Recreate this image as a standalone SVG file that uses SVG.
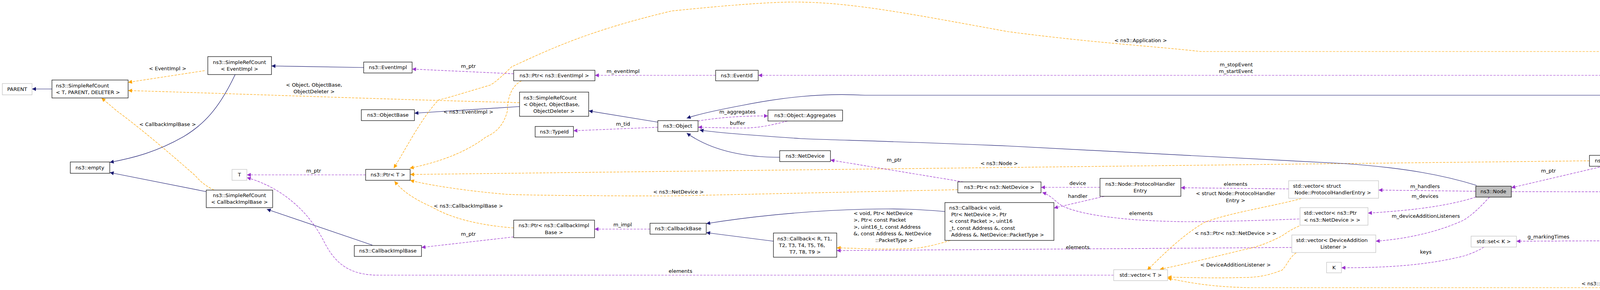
<svg xmlns="http://www.w3.org/2000/svg" width="5136" height="743" viewBox="0 0 5136 743">
<style>
text{font-family:"DejaVu Sans","Liberation Sans",sans-serif;font-size:13px;fill:#000}
.m{text-anchor:middle}
.e{text-anchor:end}
rect.n{fill:#fff;stroke:#000;stroke-width:1.2}
rect.g{fill:#fff;stroke:#bfbfbf;stroke-width:1.2}
rect.s{fill:#bfbfbf;stroke:#000;stroke-width:1.2}
path{fill:none;stroke-width:1.2}
.b{stroke:#191970;marker-end:url(#ab)}
.p{stroke:#9a32cd;stroke-dasharray:6,3;marker-end:url(#ap)}
.o{stroke:#ffa500;stroke-dasharray:6,3;marker-end:url(#ao)}
</style>
<defs>
<marker id="ab" viewBox="0 0 10 10" refX="10" refY="5" markerWidth="12" markerHeight="10" markerUnits="userSpaceOnUse" orient="auto"><path d="M0,0L10,5L0,10z" style="fill:#191970;stroke:none"/></marker>
<marker id="ap" viewBox="0 0 10 10" refX="10" refY="5" markerWidth="12" markerHeight="10" markerUnits="userSpaceOnUse" orient="auto"><path d="M0,0L10,5L0,10z" style="fill:#9a32cd;stroke:none"/></marker>
<marker id="ao" viewBox="0 0 10 10" refX="10" refY="5" markerWidth="12" markerHeight="10" markerUnits="userSpaceOnUse" orient="auto"><path d="M0,0L10,5L0,10z" style="fill:#ffa500;stroke:none"/></marker>
</defs>
<rect width="5136" height="743" fill="#fff"/>
<g id="connectors">
<path class="b" d="M133,228H82"/>
<path class="o" d="M524,181L328,211"/>
<path class="o" d="M1330,263C1000,255 600,240 328,232"/>
<path class="o" d="M548,487C530,478 516,469 500,450C420,380 351,322 300,285L260,251"/>
<path class="b" d="M602,191C560,280 520,320 470,350C400,390 340,405 281,416"/>
<path class="b" d="M528,491L281,442"/>
<path class="b" d="M931,173L695,169"/>
<path class="p" d="M936,448H632"/>
<path class="p" d="M2851,705H970C900,705 860,680 830,620C790,540 720,480 632,455"/>
<path class="p" d="M1315,189L1055,177"/>
<path class="p" d="M1832,193H1523"/>
<path class="b" d="M1330,273L1061,290"/>
<path class="b" d="M1684,313L1507,284"/>
<path class="p" d="M1684,326L1468,335"/>
<path class="o" d="M1335,207C1310,220 1299,250 1299,284C1290,320 1270,340 1244,351C1180,400 1100,420 1049,431"/>
<path class="o" d="M4718,261C4680,210 4600,140 4481,132H3074C2950,118 2800,110 2580,81C2300,30 2150,0 1994,6C1900,10 1800,20 1720,28C1500,80 1400,130 1310,171C1290,190 1270,210 1255,218C1180,240 1150,250 1123,256C1080,300 1040,380 1008,431"/>
<path class="o" d="M4069,412L3440,419L2580,429L1720,439L1050,447"/>
<path class="o" d="M2452,486L1720,502C1500,502 1350,500 1299,498C1200,490 1100,475 1050,462"/>
<path class="o" d="M1315,584C1200,575 1140,550 1107,531C1060,510 1030,490 1010,464"/>
<path class="p" d="M1315,607L1079,634"/>
<path class="p" d="M1664,587H1522"/>
<path class="b" d="M953,628L683,536"/>
<path class="b" d="M4405,264L4300,253C4250,247 4200,244 4170,244H2214C2100,238 2000,250 1900,270C1820,285 1780,295 1758,303"/>
<path class="b" d="M3780,475C3700,450 3600,430 3440,419L2580,374C2300,362 2100,358 2049,355C1900,345 1820,338 1791,333"/>
<path class="b" d="M1996,403C1900,403 1820,385 1758,341"/>
<path class="p" d="M1786,310C1850,300 1900,297 1966,297"/>
<path class="p" d="M2016,310C1970,322 1940,328 1901,328C1850,328 1800,326 1787,326"/>
<path class="p" d="M2466,466L2126,410"/>
<path class="b" d="M2419,542C2350,536 2300,534 2214,536C2050,540 1900,558 1808,573"/>
<path class="b" d="M1980,618L1808,596"/>
<path class="o" d="M2433,616C2380,632 2350,637 2323,637C2250,640 2200,636 2142,635"/>
<path class="p" d="M3307,634L2142,642"/>
<path class="p" d="M4447,258C4420,230 4300,195 4224,193H1941"/>
<path class="p" d="M2816,480H2665"/>
<path class="p" d="M2827,503L2698,533"/>
<path class="p" d="M3299,484L3023,481"/>
<path class="p" d="M3326,561C3200,566 3100,568 3035,568C2850,566 2750,545 2717,526C2700,515 2690,500 2668,493"/>
<path class="o" d="M3331,509C3250,530 3150,545 3085,569C3030,600 2980,650 2937,692"/>
<path class="o" d="M3326,579C3300,590 3290,600 3277,607C3240,625 3220,632 3183,640C3100,660 3020,680 2969,690"/>
<path class="o" d="M3318,648C3300,660 3295,680 3282,692C3250,705 3220,711 3183,711C3100,713 3050,711 2989,710"/>
<path class="o" d="M5028,517C5000,560 4960,620 4900,690C4840,730 4800,737 4742,737H3200C3100,735 3050,725 2989,713"/>
<path class="p" d="M4104,426L3869,481"/>
<path class="p" d="M3778,490L3529,487"/>
<path class="p" d="M3778,505C3700,530 3600,540 3502,546"/>
<path class="p" d="M3813,505C3790,530 3770,550 3747,564C3680,595 3600,612 3522,618"/>
<path class="p" d="M3799,633C3780,645 3760,652 3747,656C3650,680 3550,686 3434,686"/>
<path class="p" d="M4112,617L3882,618"/>
<path class="p" d="M3869,491L4957,493"/>
<path class="p" d="M4428,292C4380,315 4340,330 4300,348L4191,398"/>
<path class="p" d="M4457,292C4440,320 4420,340 4407,360C4380,400 4330,450 4300,481L4175,602"/>
<path class="p" d="M4627,274H4533"/>
<path class="p" d="M5006,467L4756,289"/>
</g>
<g id="labels">
<text class="m" x="429" y="180">&lt; EventImpl &gt;</text>
<text class="m" x="804" y="222">&lt; Object, ObjectBase,</text>
<text class="m" x="804" y="239">ObjectDeleter &gt;</text>
<text class="m" x="429" y="323">&lt; CallbackImplBase &gt;</text>
<text class="m" x="803" y="442">m_ptr</text>
<text class="m" x="1742" y="699">elements</text>
<text class="m" x="1199" y="174">m_ptr</text>
<text class="m" x="1595" y="187">m_eventImpl</text>
<text class="m" x="1199" y="291">&lt; ns3::EventImpl &gt;</text>
<text class="m" x="1595" y="322">m_tid</text>
<text class="m" x="1199" y="532">&lt; ns3::CallbackImplBase &gt;</text>
<text class="m" x="1199" y="604">m_ptr</text>
<text class="m" x="1594" y="580">m_impl</text>
<text class="m" x="1737" y="496">&lt; ns3::NetDevice &gt;</text>
<text class="m" x="2920" y="108">&lt; ns3::Application &gt;</text>
<text class="m" x="2558" y="423">&lt; ns3::Node &gt;</text>
<text class="m" x="1888" y="291">m_aggregates</text>
<text class="m" x="1888" y="320">buffer</text>
<text class="m" x="2289" y="414">m_ptr</text>
<text x="2185" y="551">&lt; void, Ptr&lt; NetDevice</text>
<text x="2185" y="568">&gt;, Ptr&lt; const Packet</text>
<text x="2185" y="586">&gt;, uint16_t, const Address</text>
<text x="2185" y="603">&amp;, const Address &amp;, NetDevice</text>
<text class="m" x="2289" y="620">::PacketType &gt;</text>
<text class="e" x="3207" y="170">m_stopEvent</text>
<text class="e" x="3207" y="187">m_startEvent</text>
<text class="m" x="2759" y="474">device</text>
<text class="m" x="2759" y="507">handler</text>
<text class="m" x="3163" y="476">elements</text>
<text class="m" x="3163" y="500">&lt; struct Node::ProtocolHandler</text>
<text class="m" x="3163" y="518">Entry &gt;</text>
<text class="m" x="2921" y="551">elements</text>
<text class="m" x="3163" y="602">&lt; ns3::Ptr&lt; ns3::NetDevice &gt; &gt;</text>
<text class="m" x="2759" y="638">elements</text>
<text class="m" x="3163" y="683">&lt; DeviceAdditionListener &gt;</text>
<text class="m" x="4156" y="731">&lt; ns3::Ptr&lt; ns3::Application &gt; &gt;</text>
<text class="m" x="3964" y="442">m_ptr</text>
<text class="m" x="3648" y="482">m_handlers</text>
<text class="m" x="3648" y="507">m_devices</text>
<text class="m" x="3650" y="558">m_deviceAdditionListeners</text>
<text class="m" x="3964" y="611">g_markingTimes</text>
<text class="m" x="3650" y="650">keys</text>
<text class="m" x="4471" y="487">m_applications</text>
<text class="m" x="4340" y="296">m_node</text>
<text class="e" x="4379" y="368">m_stopTime</text>
<text class="e" x="4379" y="386">m_startTime</text>
<text class="m" x="4581" y="268">m_ptr</text>
<text class="m" x="4900" y="366">elements</text>
</g>
<g id="n-parent"><rect class="g" x="6" y="214" width="76" height="29"/><text class="m" x="44" y="233">PARENT</text></g>
<g id="n-src-tpd"><rect class="n" x="133" y="205" width="195" height="46"/><text x="143" y="224">ns3::SimpleRefCount</text><text x="143" y="241">&lt; T, PARENT, DELETER &gt;</text></g>
<g id="n-src-eventimpl"><rect class="n" x="532" y="145" width="163" height="46"/><text class="m" x="613" y="164">ns3::SimpleRefCount</text><text class="m" x="613" y="181">&lt; EventImpl &gt;</text></g>
<g id="n-empty"><rect class="n" x="180" y="415" width="101" height="29"/><text class="m" x="230" y="434">ns3::empty</text></g>
<g id="n-t"><rect class="g" x="594" y="434" width="38" height="28"/><text class="m" x="613" y="452">T</text></g>
<g id="n-src-cbib"><rect class="n" x="528" y="487" width="170" height="45"/><text class="m" x="613" y="505">ns3::SimpleRefCount</text><text class="m" x="613" y="522">&lt; CallbackImplBase &gt;</text></g>
<g id="n-eventimpl"><rect class="n" x="931" y="159" width="124" height="28"/><text class="m" x="993" y="177">ns3::EventImpl</text></g>
<g id="n-ptr-eventimpl"><rect class="n" x="1315" y="180" width="208" height="27"/><text class="m" x="1419" y="198">ns3::Ptr&lt; ns3::EventImpl &gt;</text></g>
<g id="n-src-object"><rect class="n" x="1330" y="236" width="177" height="62"/><text x="1340" y="255">ns3::SimpleRefCount</text><text x="1340" y="272">&lt; Object, ObjectBase,</text><text class="m" x="1418" y="289">ObjectDeleter &gt;</text></g>
<g id="n-objectbase"><rect class="n" x="925" y="281" width="136" height="28"/><text class="m" x="993" y="299">ns3::ObjectBase</text></g>
<g id="n-typeid"><rect class="n" x="1370" y="324" width="98" height="27"/><text class="m" x="1419" y="342">ns3::TypeId</text></g>
<g id="n-ptr-t"><rect class="n" x="936" y="434" width="114" height="28"/><text class="m" x="993" y="452">ns3::Ptr&lt; T &gt;</text></g>
<g id="n-ptr-cbib"><rect class="n" x="1315" y="564" width="207" height="45"/><text class="m" x="1418" y="582">ns3::Ptr&lt; ns3::CallbackImpl</text><text class="m" x="1418" y="600">Base &gt;</text></g>
<g id="n-cbib"><rect class="n" x="907" y="629" width="172" height="28"/><text class="m" x="993" y="647">ns3::CallbackImplBase</text></g>
<g id="n-object"><rect class="n" x="1684" y="309" width="103" height="28"/><text class="m" x="1735" y="327">ns3::Object</text></g>
<g id="n-eventid"><rect class="n" x="1832" y="180" width="109" height="27"/><text class="m" x="1886" y="198">ns3::EventId</text></g>
<g id="n-aggregates"><rect class="n" x="1966" y="282" width="191" height="28"/><text class="m" x="2061" y="300">ns3::Object::Aggregates</text></g>
<g id="n-netdevice"><rect class="n" x="1996" y="386" width="130" height="28"/><text class="m" x="2061" y="404">ns3::NetDevice</text></g>
<g id="n-ptr-netdevice"><rect class="n" x="2452" y="466" width="213" height="28"/><text class="m" x="2558" y="484">ns3::Ptr&lt; ns3::NetDevice &gt;</text></g>
<g id="n-callbackbase"><rect class="n" x="1664" y="572" width="144" height="28"/><text class="m" x="1736" y="590">ns3::CallbackBase</text></g>
<g id="n-callback-r"><rect class="n" x="1980" y="597" width="162" height="62"/><text x="1990" y="616">ns3::Callback&lt; R, T1,</text><text x="1994" y="633">T2, T3, T4, T5, T6,</text><text class="m" x="2061" y="650">T7, T8, T9 &gt;</text></g>
<g id="n-callback-void"><rect class="n" x="2419" y="519" width="279" height="97"/><text x="2430" y="537">ns3::Callback&lt; void,</text><text x="2435" y="554">Ptr&lt; NetDevice &gt;, Ptr</text><text x="2430" y="571">&lt; const Packet &gt;, uint16</text><text x="2430" y="589">_t, const Address &amp;, const</text><text x="2435" y="606">Address &amp;, NetDevice::PacketType &gt;</text></g>
<g id="n-phe"><rect class="n" x="2816" y="457" width="207" height="46"/><text class="m" x="2919" y="476">ns3::Node::ProtocolHandler</text><text class="m" x="2919" y="493">Entry</text></g>
<g id="n-vec-phe"><rect class="g" x="3299" y="463" width="230" height="45"/><text x="3310" y="481">std::vector&lt; struct</text><text x="3314" y="498">Node::ProtocolHandlerEntry &gt;</text></g>
<g id="n-vec-ptrnd"><rect class="g" x="3328" y="532" width="174" height="45"/><text x="3338" y="550">std::vector&lt; ns3::Ptr</text><text x="3338" y="568">&lt; ns3::NetDevice &gt; &gt;</text></g>
<g id="n-vec-dal"><rect class="g" x="3307" y="602" width="215" height="45"/><text x="3318" y="620">std::vector&lt; DeviceAddition</text><text class="m" x="3414" y="637">Listener &gt;</text></g>
<g id="n-k"><rect class="g" x="3396" y="672" width="38" height="27"/><text class="m" x="3415" y="690">K</text></g>
<g id="n-vec-t"><rect class="g" x="2851" y="691" width="138" height="28"/><text class="m" x="2920" y="709">std::vector&lt; T &gt;</text></g>
<g id="n-node"><rect class="s" x="3778" y="477" width="91" height="28"/><text class="m" x="3823" y="495">ns3::Node</text></g>
<g id="n-ptr-node"><rect class="n" x="4069" y="398" width="175" height="28"/><text class="m" x="4156" y="416">ns3::Ptr&lt; ns3::Node &gt;</text></g>
<g id="n-set-k"><rect class="g" x="3766" y="605" width="116" height="28"/><text class="m" x="3824" y="623">std::set&lt; K &gt;</text></g>
<g id="n-time"><rect class="n" x="4112" y="602" width="88" height="28"/><text class="m" x="4156" y="620">ns3::Time</text></g>
<g id="n-application"><rect class="n" x="4405" y="261" width="128" height="28"/><text class="m" x="4469" y="279">ns3::Application</text></g>
<g id="n-ptr-application"><rect class="n" x="4627" y="261" width="212" height="28"/><text class="m" x="4733" y="279">ns3::Ptr&lt; ns3::Application &gt;</text></g>
<g id="n-vec-ptrapp"><rect class="g" x="4957" y="471" width="173" height="46"/><text x="4967" y="490">std::vector&lt; ns3::Ptr</text><text x="4967" y="507">&lt; ns3::Application &gt; &gt;</text></g>
</svg>
